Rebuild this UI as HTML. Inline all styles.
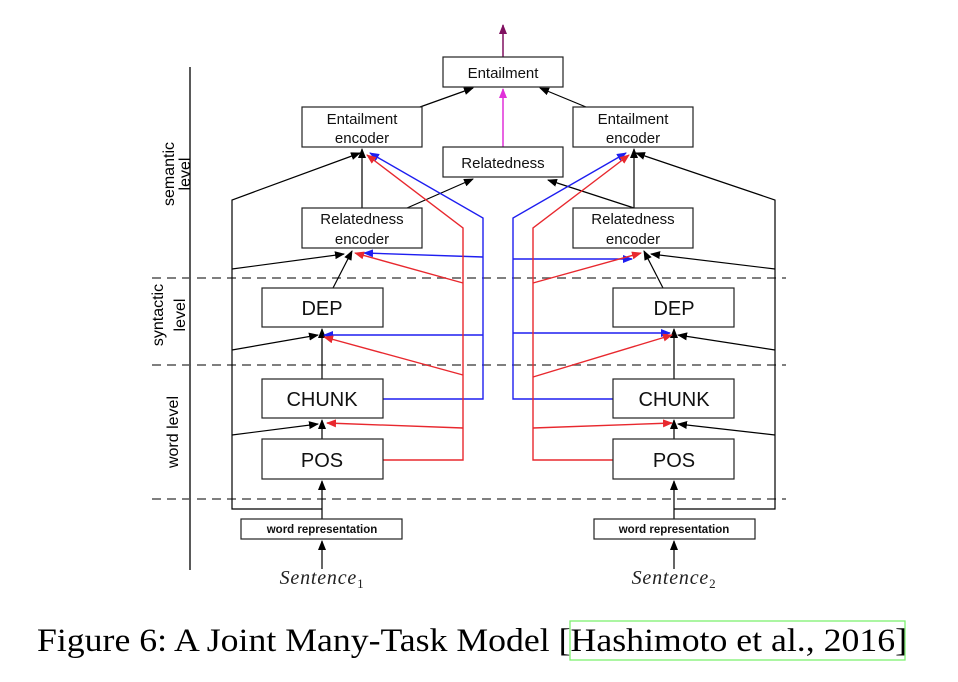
<!DOCTYPE html>
<html><head><meta charset="utf-8"><style>body{margin:0;background:#fff}svg{display:block}</style></head><body>
<svg width="958" height="682" viewBox="0 0 958 682" xmlns="http://www.w3.org/2000/svg" font-family="Liberation Sans, sans-serif">
<defs>
<marker id="ak" markerWidth="10" markerHeight="8" refX="9" refY="4" orient="auto" markerUnits="userSpaceOnUse"><path d="M0,0L10,4L0,8z" fill="#000"/></marker>
<marker id="ar" markerWidth="10" markerHeight="8" refX="9" refY="4" orient="auto" markerUnits="userSpaceOnUse"><path d="M0,0L10,4L0,8z" fill="#e8282e"/></marker>
<marker id="ab" markerWidth="10" markerHeight="8" refX="9" refY="4" orient="auto" markerUnits="userSpaceOnUse"><path d="M0,0L10,4L0,8z" fill="#1e1ef0"/></marker>
<marker id="am" markerWidth="10" markerHeight="8" refX="9" refY="4" orient="auto" markerUnits="userSpaceOnUse"><path d="M0,0L10,4L0,8z" fill="#e030d8"/></marker>
<marker id="ap" markerWidth="10" markerHeight="8" refX="9" refY="4" orient="auto" markerUnits="userSpaceOnUse"><path d="M0,0L10,4L0,8z" fill="#801060"/></marker>
</defs>
<line x1="190" y1="67" x2="190" y2="570" stroke="#000" stroke-width="1.3"/>
<g stroke="#555" stroke-width="1.5" stroke-dasharray="9,6">
<line x1="152" y1="278" x2="786" y2="278"/><line x1="152" y1="365" x2="786" y2="365"/><line x1="152" y1="499" x2="786" y2="499"/>
</g>
<g font-size="16" fill="#000" text-anchor="middle">
<text transform="translate(174,174) rotate(-90)">semantic</text>
<text transform="translate(190,174) rotate(-90)">level</text>
<text transform="translate(163,315) rotate(-90)">syntactic</text>
<text transform="translate(185,315) rotate(-90)">level</text>
<text transform="translate(178,432) rotate(-90)">word level</text>
</g>
<g stroke="#000" stroke-width="1.2" fill="none">
<line x1="322" y1="519" x2="322" y2="481" marker-end="url(#ak)"/>
<polyline points="322,509 232,509 232,200 360,153" marker-end="url(#ak)"/>
<line x1="232" y1="269" x2="344" y2="254" marker-end="url(#ak)"/>
<line x1="232" y1="350" x2="318" y2="335" marker-end="url(#ak)"/>
<line x1="232" y1="435" x2="318" y2="424" marker-end="url(#ak)"/>
<line x1="322" y1="379" x2="322" y2="329" marker-end="url(#ak)"/>
<line x1="322" y1="439" x2="322" y2="420" marker-end="url(#ak)"/>
<line x1="333" y1="288" x2="352" y2="251" marker-end="url(#ak)"/>
<line x1="362" y1="208" x2="362" y2="149" marker-end="url(#ak)"/>
<line x1="407" y1="208" x2="473" y2="179" marker-end="url(#ak)"/>
<line x1="420" y1="107" x2="473" y2="88" marker-end="url(#ak)"/>
<line x1="322" y1="569" x2="322" y2="541" marker-end="url(#ak)"/>
<line x1="674" y1="519" x2="674" y2="481" marker-end="url(#ak)"/>
<polyline points="674,509 775,509 775,200 636,153" marker-end="url(#ak)"/>
<line x1="775" y1="269" x2="651" y2="254" marker-end="url(#ak)"/>
<line x1="775" y1="350" x2="678" y2="335" marker-end="url(#ak)"/>
<line x1="775" y1="435" x2="678" y2="424" marker-end="url(#ak)"/>
<line x1="674" y1="379" x2="674" y2="329" marker-end="url(#ak)"/>
<line x1="674" y1="439" x2="674" y2="420" marker-end="url(#ak)"/>
<line x1="663" y1="288" x2="644" y2="251" marker-end="url(#ak)"/>
<line x1="634" y1="208" x2="634" y2="149" marker-end="url(#ak)"/>
<line x1="634" y1="208" x2="548" y2="180" marker-end="url(#ak)"/>
<line x1="586" y1="107" x2="540" y2="88" marker-end="url(#ak)"/>
<line x1="674" y1="569" x2="674" y2="541" marker-end="url(#ak)"/>
</g>
<line x1="503" y1="147" x2="503" y2="89" stroke="#e030d8" stroke-width="1.5" marker-end="url(#am)"/>
<line x1="503" y1="57" x2="503" y2="25" stroke="#801060" stroke-width="1.5" marker-end="url(#ap)"/>
<g stroke="#1e1ef0" stroke-width="1.4" fill="none">
<polyline points="383,399 483,399 483,218 370,153" marker-end="url(#ab)"/>
<polyline points="483,257 364,253" marker-end="url(#ab)"/>
<polyline points="483,335 324,335" marker-end="url(#ab)"/>
<polyline points="613,399 513,399 513,218 626,153" marker-end="url(#ab)"/>
<polyline points="513,259 632,259" marker-end="url(#ab)"/>
<polyline points="513,333 670,333" marker-end="url(#ab)"/>
</g>
<g stroke="#e8282e" stroke-width="1.4" fill="none">
<polyline points="383,460 463,460 463,228 367,155" marker-end="url(#ar)"/>
<line x1="463" y1="283" x2="355" y2="253" marker-end="url(#ar)"/>
<line x1="463" y1="375" x2="324" y2="337" marker-end="url(#ar)"/>
<line x1="463" y1="428" x2="327" y2="423" marker-end="url(#ar)"/>
<polyline points="613,460 533,460 533,228 629,155" marker-end="url(#ar)"/>
<line x1="533" y1="283" x2="641" y2="253" marker-end="url(#ar)"/>
<line x1="533" y1="377" x2="672" y2="335" marker-end="url(#ar)"/>
<line x1="533" y1="428" x2="672" y2="423" marker-end="url(#ar)"/>
</g>
<g fill="#fff" stroke="#222" stroke-width="1.2">
<rect x="443" y="57" width="120" height="30"/><rect x="443" y="147" width="120" height="30"/>
<rect x="302" y="107" width="120" height="40"/><rect x="302" y="208" width="120" height="40"/>
<rect x="573" y="107" width="120" height="40"/><rect x="573" y="208" width="120" height="40"/>
<rect x="262" y="288" width="121" height="39"/><rect x="262" y="379" width="121" height="39"/><rect x="262" y="439" width="121" height="40"/>
<rect x="613" y="288" width="121" height="39"/><rect x="613" y="379" width="121" height="39"/><rect x="613" y="439" width="121" height="40"/>
<rect x="241" y="519" width="161" height="20"/><rect x="594" y="519" width="161" height="20"/>
</g>
<g font-size="15" fill="#111" text-anchor="middle">
<text x="503" y="78">Entailment</text><text x="503" y="168">Relatedness</text>
<text x="362" y="124">Entailment</text><text x="362" y="143">encoder</text>
<text x="362" y="224">Relatedness</text><text x="362" y="244">encoder</text>
<text x="633" y="124">Entailment</text><text x="633" y="143">encoder</text>
<text x="633" y="224">Relatedness</text><text x="633" y="244">encoder</text>
</g>
<g font-size="20" fill="#111" text-anchor="middle">
<text x="322" y="315">DEP</text><text x="322" y="406">CHUNK</text><text x="322" y="467">POS</text>
<text x="674" y="315">DEP</text><text x="674" y="406">CHUNK</text><text x="674" y="467">POS</text>
</g>
<g font-size="11.5" font-weight="bold" fill="#111" text-anchor="middle">
<text x="322" y="533">word representation</text><text x="674" y="533">word representation</text>
</g>
<g font-family="Liberation Serif, serif" font-style="italic" font-size="20" fill="#222" text-anchor="middle">
<text x="322" y="584" letter-spacing="0.8">Sentence<tspan font-style="normal" font-size="13" dy="4">1</tspan></text>
<text x="674" y="584" letter-spacing="0.8">Sentence<tspan font-style="normal" font-size="13" dy="4">2</tspan></text>
</g>
<rect x="570" y="621" width="335" height="39" fill="none" stroke="#7ef070" stroke-width="1.3"/>
<text x="37" y="651" font-family="Liberation Serif, serif" font-size="33" fill="#000" textLength="870" lengthAdjust="spacingAndGlyphs">Figure 6: A Joint Many-Task Model [Hashimoto et al., 2016]</text>
</svg>
</body></html>
